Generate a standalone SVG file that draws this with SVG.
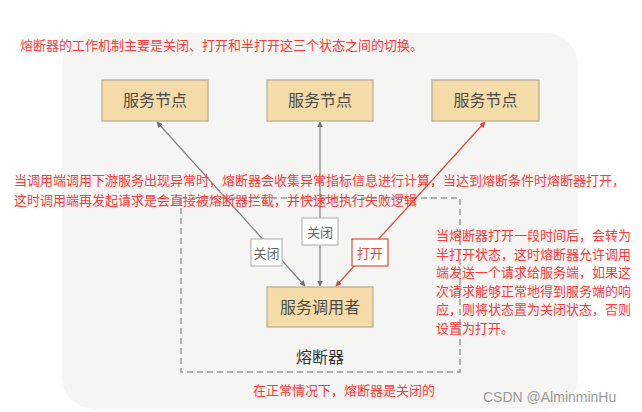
<svg xmlns="http://www.w3.org/2000/svg" width="642" height="412" viewBox="0 0 642 412">
<style>
  .cjk { font-family: "Noto Sans CJK SC", "Noto Sans", sans-serif; }
  .note { fill: #ff3a3a; font-size: 13px; }
  .svc { fill: #f4dba7; stroke: #b4ab96; stroke-width: 1.2; }
  .svctxt { fill: #4a4a4a; font-size: 16px; text-anchor: middle; }
  .lbl { fill: #ffffff; stroke: #b8b8b8; stroke-width: 1.2; }
  .lblred { fill: #ffffff; stroke: #d9503f; stroke-width: 1.2; }
  .lbltxt { fill: #666; font-size: 13px; text-anchor: middle; }
  .lbltxtred { fill: #d9503f; font-size: 13px; text-anchor: middle; }
  .line { stroke: #808080; stroke-width: 1.2; fill: none; marker-start: url(#ag); marker-end: url(#ag); }
  .linered { stroke: #d9453a; stroke-width: 1.2; fill: none; marker-start: url(#ar); marker-end: url(#ar); }
</style>
<defs>
  <marker id="ag" viewBox="0 0 10 10" refX="9" refY="5" markerWidth="6" markerHeight="6" markerUnits="userSpaceOnUse" orient="auto-start-reverse">
    <path d="M0,0 L10,5 L0,10 z" fill="#707070"/>
  </marker>
  <marker id="ar" viewBox="0 0 10 10" refX="9" refY="5" markerWidth="6" markerHeight="6" markerUnits="userSpaceOnUse" orient="auto-start-reverse">
    <path d="M0,0 L10,5 L0,10 z" fill="#d9453a"/>
  </marker>
</defs>
<rect x="0" y="0" width="642" height="412" fill="#ffffff"/>
<rect id="background" x="62" y="33" width="516" height="376" rx="32" ry="32" fill="#f5f5f3"/>
<g id="breaker">
  <rect x="181" y="198" width="279" height="174" fill="none" stroke="#9a9a9a" stroke-width="1.5" stroke-dasharray="6,4"/>
  <text class="cjk" x="320" y="363" fill="#333" font-size="16" text-anchor="middle">熔断器</text>
</g>
<g id="connectors">
  <line class="line" x1="157" y1="122" x2="305" y2="286"/>
  <line class="line" x1="320" y1="122" x2="320" y2="286"/>
  <line class="linered" x1="485" y1="122" x2="336" y2="286"/>
  <g id="label-left">
    <rect class="lbl" x="251" y="239" width="31" height="27"/>
    <text class="cjk lbltxt" x="266.5" y="257.5">关闭</text>
  </g>
  <g id="label-mid">
    <rect class="lbl" x="302" y="218" width="36" height="27"/>
    <text class="cjk lbltxt" x="320" y="236.5">关闭</text>
  </g>
  <g id="label-right">
    <rect class="lblred" x="352" y="239" width="36" height="27"/>
    <text class="cjk lbltxtred" x="370" y="257.5">打开</text>
  </g>
</g>
<g id="svc1">
  <rect class="svc" x="102" y="80" width="106" height="41"/>
  <text class="cjk svctxt" x="155" y="106">服务节点</text>
</g>
<g id="svc2">
  <rect class="svc" x="267" y="80" width="106" height="41"/>
  <text class="cjk svctxt" x="320" y="106">服务节点</text>
</g>
<g id="svc3">
  <rect class="svc" x="432" y="80" width="107" height="41"/>
  <text class="cjk svctxt" x="485.5" y="106">服务节点</text>
</g>
<g id="caller">
  <rect class="svc" x="267" y="287" width="106" height="40"/>
  <text class="cjk svctxt" x="320" y="313">服务调用者</text>
</g>
<g id="notes">
  <text class="cjk note" x="20" y="50">熔断器的工作机制主要是关闭、打开和半打开这三个状态之间的切换。</text>
  <text class="cjk note" x="14" y="185">当调用端调用下游服务出现异常时，熔断器会收集异常指标信息进行计算，当达到熔断条件时熔断器打开，</text>
  <text class="cjk note" x="14" y="205">这时调用端再发起请求是会直接被熔断器拦截，并快速地执行失败逻辑</text>
  <text class="cjk note" x="436" y="240">当熔断器打开一段时间后，会转为</text>
  <text class="cjk note" x="436" y="258.5">半打开状态，这时熔断器允许调用</text>
  <text class="cjk note" x="436" y="277">端发送一个请求给服务端，如果这</text>
  <text class="cjk note" x="436" y="295.5">次请求能够正常地得到服务端的响</text>
  <text class="cjk note" x="436" y="314">应，则将状态置为关闭状态，否则</text>
  <text class="cjk note" x="436" y="332.5">设置为打开。</text>
  <text class="cjk note" x="253" y="395">在正常情况下，熔断器是关闭的</text>
</g>
<text x="483" y="402" font-family="Liberation Sans, Arial, sans-serif" font-size="14" fill="#9a9a9a">CSDN @AlminminHu</text>
</svg>
